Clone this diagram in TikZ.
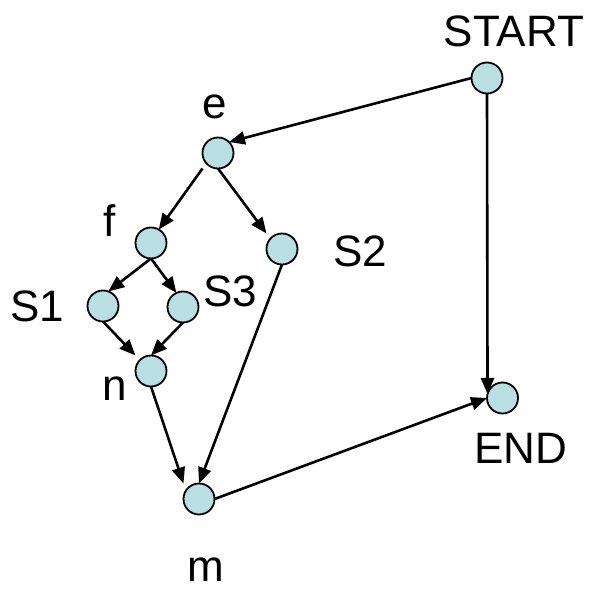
\documentclass[tikz,border=0pt]{standalone}
\usepackage{fontspec}
\setmainfont{Liberation Sans}
\usetikzlibrary{arrows.meta}
\definecolor{nodefill}{RGB}{186,223,226}
\begin{document}
\begin{tikzpicture}[x=1pt,y=-1pt,
  vtx/.style={circle,draw=black,line width=1.8pt,fill=nodefill,minimum size=31pt,inner sep=0pt,outer sep=0pt},
  lbl/.style={anchor=base,inner sep=0pt,font=\fontsize{44}{48}\selectfont},
  edge/.style={line width=2.6pt,-{Triangle[length=16pt,width=13pt]}}]
\useasboundingbox (0,0) rectangle (592,589);
\node[vtx] (start) at (487,78) {};
\node[vtx] (e) at (218,153) {};
\node[vtx] (f) at (151,243) {};
\node[vtx] (s2) at (282,249) {};
\node[vtx] (s1) at (103,306) {};
\node[vtx] (s3) at (183,307) {};
\node[vtx] (n) at (151,371) {};
\node[vtx] (end) at (502.5,398) {};
\node[vtx] (m) at (199,499) {};
\node[lbl] (lstart) at (514,46.7) {START};
\node[lbl] (le) at (215,118) {e};
\node[lbl] (lf) at (110,236.7) {f};
\node[lbl] (ls2) at (360,266.7) {S2};
\node[lbl] (ls1) at (37,321.7) {S1};
\node[lbl] (ls3) at (230,306.7) {S3};
\node[lbl] (ln) at (115,400) {n};
\node[lbl] (lend) at (521,463.3) {END};
\node[lbl] (lm) at (205.5,581) {m};
\draw[edge] (start.west) -- (e.45);
\draw[edge] (start.south) -- (end.165);
\draw[edge] (e.west |- e.south) -- (f.60);
\draw[edge] (e.south) -- (s2.west |- s2.north);
\draw[edge] (f.south) -- (s1.70);
\draw[edge] (f.south) -- (s3.115);
\draw[edge] (s1.south) -- (n.west |- n.north);
\draw[edge] (s3.south) -- (n.north);
\draw[edge] (n.south) -- (m.west |- m.north);
\draw[edge] (s2.south) -- (m.north);
\draw[edge] (m.east) -- (end.west);
\end{tikzpicture}
\end{document}
